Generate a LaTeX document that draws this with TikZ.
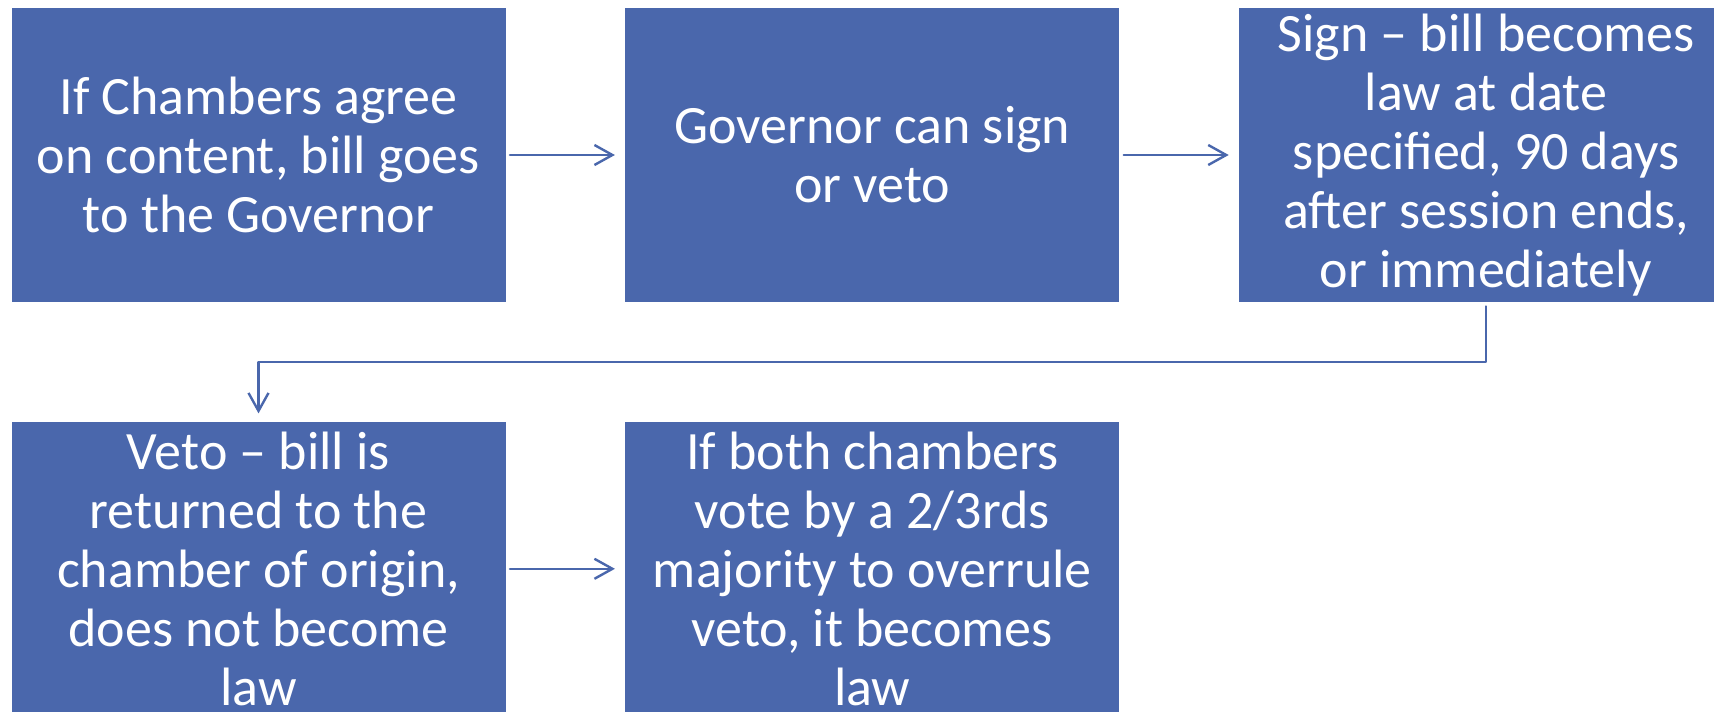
\documentclass[tikz,border=0pt]{standalone}
\usepackage{fontspec}
\setmainfont{Carlito}
\usetikzlibrary{positioning,arrows.meta}

\definecolor{billblue}{RGB}{74,103,172}

\tikzset{
    stepbox/.style={fill=billblue, text=white, inner sep=0pt,
        minimum width=247pt, minimum height=147pt, align=center,
        font=\fontsize{27pt}{29.5pt}\selectfont},
    flow/.style={draw=billblue, line width=1.2pt,
        -{Straight Barb[length=9pt,width=10pt,line width=1.2pt]},
        shorten <=2pt, shorten >=5pt}
}

\begin{document}
\begin{tikzpicture}[line cap=round, line join=round, x=0.5pt, y=-0.5pt, node distance=59.5pt]

                \useasboundingbox (0,0) rectangle (1714,712);

                \node[stepbox] (agree) at (258.5,155) {If Chambers agree\\on content, bill goes\\to the Governor};
                \node[stepbox, right=of agree] (governor) {Governor can sign\\or veto};
                \node[stepbox, right=of governor] (sign) {Sign -- bill becomes\\law at date\\specified, 90 days\\after session ends,\\or immediately};

                \node[stepbox, below=of agree] (veto) {Veto -- bill is\\returned to the\\chamber of origin,\\does not become\\law};
                \node[stepbox, right=of veto] (overrule) {If both chambers\\vote by a 2/3rds\\majority to overrule\\veto, it becomes\\law};

                \coordinate (turn) at (1484,362);

                \draw[flow] (agree) -- (governor);
                \draw[flow] (governor) -- (sign);
                \draw[flow, shorten >=4pt] (sign.south) |- (turn) -| (veto.north);
                \draw[flow] (veto) -- (overrule);

\end{tikzpicture}
\end{document}
